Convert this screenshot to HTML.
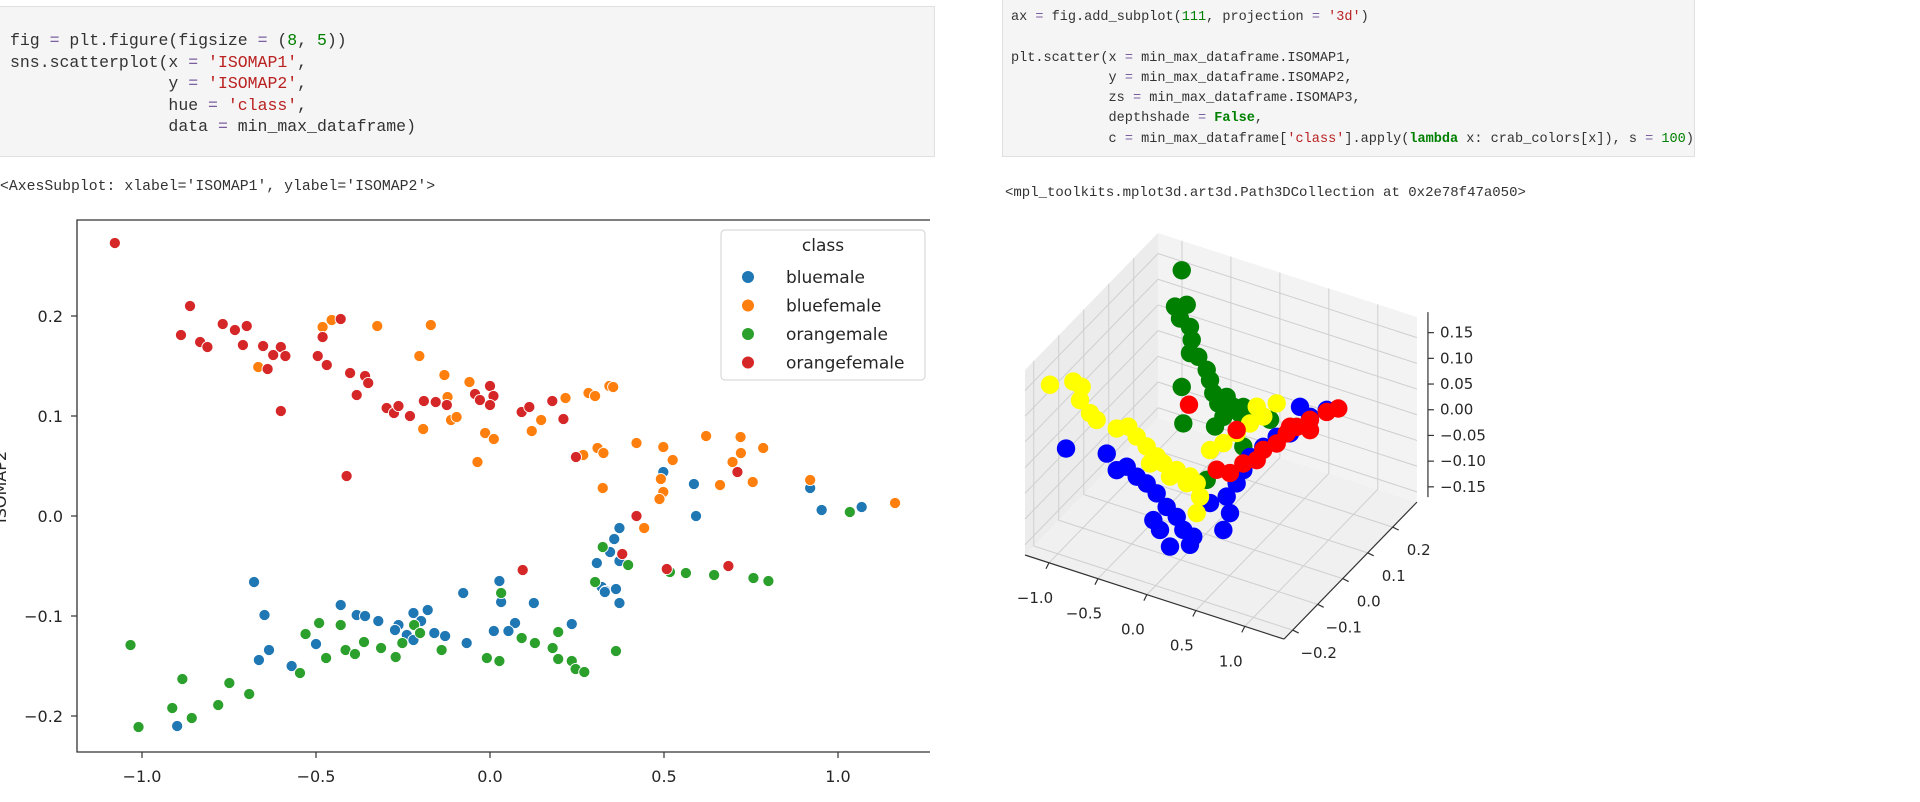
<!DOCTYPE html>
<html><head><meta charset="utf-8">
<style>
body{margin:0;width:1920px;height:802px;background:#fff;overflow:hidden;position:relative;font-family:"Liberation Sans",sans-serif}
.cell{position:absolute;background:#f5f5f5;border:1px solid #e0e0e0;box-sizing:border-box}
.code{position:absolute;font-family:"Liberation Mono",monospace;color:#333;white-space:pre}
.s{color:#ba2121}.n{color:#008000}.o{color:#7a5fa0}.k{color:#008000;font-weight:bold}
.out{position:absolute;font-family:"Liberation Mono",monospace;color:#333;white-space:pre}
svg{position:absolute;left:0;top:0}
</style></head><body>
<div class="cell" style="left:-2px;top:6px;width:937px;height:151px"></div>
<div class="code" style="left:10px;top:30px;font-size:16.5px;line-height:21.5px">fig <span class="o">=</span> plt.figure(figsize <span class="o">=</span> (<span class="n">8</span>, <span class="n">5</span>))
sns.scatterplot(x <span class="o">=</span> <span class="s">'ISOMAP1'</span>,
                y <span class="o">=</span> <span class="s">'ISOMAP2'</span>,
                hue <span class="o">=</span> <span class="s">'class'</span>,
                data <span class="o">=</span> min_max_dataframe)</div>
<div class="out" style="left:0px;top:178px;font-size:14.8px;line-height:18px">&lt;AxesSubplot: xlabel='ISOMAP1', ylabel='ISOMAP2'&gt;</div>
<div class="cell" style="left:1002px;top:-2px;width:693px;height:159px"></div>
<div class="code" style="left:1011px;top:8px;font-size:13.55px;line-height:20.3px">ax <span class="o">=</span> fig.add_subplot(<span class="n">111</span>, projection <span class="o">=</span> <span class="s">'3d'</span>)

plt.scatter(x <span class="o">=</span> min_max_dataframe.ISOMAP1,
            y <span class="o">=</span> min_max_dataframe.ISOMAP2,
            zs <span class="o">=</span> min_max_dataframe.ISOMAP3,
            depthshade <span class="o">=</span> <span class="k">False</span>,
            c <span class="o">=</span> min_max_dataframe[<span class="s">'class'</span>].apply(<span class="k">lambda</span> x: crab_colors[x]), s <span class="o">=</span> <span class="n">100</span>)</div>
<div class="out" style="left:1005px;top:184px;font-size:14px;line-height:18px">&lt;mpl_toolkits.mplot3d.art3d.Path3DCollection at 0x2e78f47a050&gt;</div>

<svg id="chart" width="1920" height="802" xmlns="http://www.w3.org/2000/svg"></svg>

<script>
// ---------- 2D scatter data ----------
const classNames = ['bluemale','bluefemale','orangemale','orangefemale'];
const classColors = ['#1f77b4','#ff7f0e','#2ca02c','#d62728'];
const xTicks = [-1.0,-0.5,0.0,0.5,1.0];
const xTickLabels = ['\u22121.0','\u22120.5','0.0','0.5','1.0'];
const yTicks = [-0.2,-0.1,0.0,0.1,0.2];
const yTickLabels = ['\u22120.2','\u22120.1','0.0','0.1','0.2'];
const blueMaleX = [-0.678,-0.648,-0.429,-0.383,-0.359,-0.321,0.498,0.586,0.592,0.372,0.357,0.345,0.372,0.307,0.321,0.332,0.362,0.372,0.027,0.032,-0.077,0.126,-0.179,-0.220,-0.263,0.072,0.235,-0.635,-0.664,-0.570,-0.500,-0.273,-0.239,-0.220,-0.198,-0.160,-0.129,-0.067,0.011,0.053,-0.899,0.920,0.953,1.068,0.330];
const blueMaleY = [-0.066,-0.099,-0.089,-0.099,-0.100,-0.105,0.044,0.032,0.000,-0.012,-0.023,-0.036,-0.045,-0.047,-0.071,-0.075,-0.073,-0.087,-0.065,-0.086,-0.077,-0.087,-0.094,-0.097,-0.109,-0.107,-0.108,-0.134,-0.144,-0.150,-0.128,-0.114,-0.119,-0.124,-0.105,-0.117,-0.120,-0.127,-0.115,-0.115,-0.210,0.028,0.006,0.009,-0.076];
const blueFemaleX = [-0.666,-0.481,-0.455,-0.324,-0.170,-0.203,-0.131,-0.059,-0.122,-0.192,-0.112,-0.096,-0.036,-0.014,0.011,0.120,0.147,0.217,0.283,0.302,0.343,0.354,0.268,0.309,0.326,0.324,0.421,0.498,0.525,0.491,0.498,0.487,0.443,0.621,0.720,0.721,0.697,0.661,0.755,0.785,0.920,1.164];
const blueFemaleY = [0.149,0.189,0.196,0.190,0.191,0.160,0.141,0.134,0.119,0.087,0.096,0.099,0.054,0.083,0.077,0.085,0.096,0.118,0.123,0.120,0.130,0.129,0.061,0.068,0.063,0.028,0.073,0.069,0.056,0.037,0.024,0.017,-0.012,0.080,0.079,0.063,0.054,0.031,0.034,0.068,0.036,0.013];
const orangeMaleX = [-0.491,-0.429,0.324,0.397,0.302,0.032,0.563,0.644,0.757,0.800,0.517,-0.218,-1.033,-1.010,-0.884,-0.913,-0.857,-0.781,-0.749,-0.692,-0.546,-0.530,-0.471,-0.415,-0.388,-0.362,-0.313,-0.271,-0.252,-0.201,-0.139,-0.009,0.027,0.091,0.129,0.180,0.196,0.196,0.235,0.246,0.271,0.362,1.034];
const orangeMaleY = [-0.107,-0.109,-0.031,-0.049,-0.066,-0.077,-0.057,-0.059,-0.062,-0.065,-0.056,-0.109,-0.129,-0.211,-0.163,-0.192,-0.202,-0.189,-0.167,-0.178,-0.157,-0.118,-0.142,-0.134,-0.138,-0.126,-0.132,-0.141,-0.127,-0.117,-0.134,-0.142,-0.145,-0.122,-0.127,-0.132,-0.116,-0.143,-0.145,-0.153,-0.156,-0.135,0.004];
const orangeFemaleX = [-1.078,-0.888,-0.862,-0.833,-0.812,-0.768,-0.733,-0.699,-0.710,-0.652,-0.623,-0.601,-0.588,-0.639,-0.601,-0.495,-0.481,-0.469,-0.429,-0.402,-0.359,-0.350,-0.383,-0.412,-0.297,-0.276,-0.263,-0.230,-0.190,-0.156,-0.124,-0.043,0.000,0.010,0.000,-0.029,0.091,0.113,0.179,0.211,0.247,0.421,0.380,0.508,0.685,0.711,0.094];
const orangeFemaleY = [0.273,0.181,0.210,0.174,0.169,0.192,0.186,0.190,0.171,0.170,0.161,0.169,0.160,0.147,0.105,0.160,0.179,0.151,0.197,0.143,0.140,0.133,0.121,0.040,0.108,0.103,0.110,0.100,0.115,0.114,0.111,0.122,0.130,0.120,0.111,0.116,0.104,0.109,0.115,0.097,0.059,0.000,-0.038,-0.053,-0.050,0.044,-0.054];

// ---------- 3D scatter data ----------
const x3Ticks = [-1.0,-0.5,0.0,0.5,1.0];
const x3TickLabels = ['\u22121.0','\u22120.5','0.0','0.5','1.0'];
const y3Ticks = [-0.2,-0.1,0.0,0.1,0.2];
const y3TickLabels = ['\u22120.2','\u22120.1','0.0','0.1','0.2'];
const z3Ticks = [-0.15,-0.10,-0.05,0.0,0.05,0.10,0.15];
const z3TickLabels = ['\u22120.15','\u22120.10','\u22120.05','0.00','0.05','0.10','0.15'];
const greenX3 = [0.356,0.287,0.407,0.338,0.440,0.458,0.440,0.525,0.611,0.645,0.678,0.729,0.815,0.883,0.985,0.951,0.781,0.696,1.053,0.985,1.258,0.356,0.372,0.611];
const greenZ3 = [0.483,0.408,0.419,0.388,0.378,0.354,0.327,0.325,0.305,0.287,0.264,0.247,0.265,0.250,0.256,0.241,0.224,0.200,0.241,0.179,0.248,0.256,0.186,0.091];
const blueX3 = [-0.826,-0.410,-0.308,-0.206,-0.002,0.100,0.202,0.066,0.305,0.134,0.372,0.474,0.236,0.440,0.781,0.849,0.815,0.917,0.985,1.053,1.189,1.326,1.462,1.564,1.837,1.666,0.645,-0.104];
const blueZ3 = [0.063,0.079,0.053,0.066,0.046,0.033,0.013,-0.021,0.000,-0.036,-0.021,-0.028,-0.062,-0.046,0.004,0.041,0.071,0.103,0.133,0.163,0.191,0.219,0.234,0.292,0.303,0.279,0.048,0.053];
const yellowX3 = [-0.990,-0.752,-0.666,-0.683,-0.581,-0.513,-0.308,-0.190,-0.104,-0.002,0.100,0.168,0.305,0.440,0.509,0.543,0.509,0.407,0.645,0.781,0.917,1.053,1.189,1.326,0.032,0.236,1.122];
const yellowZ3 = [0.177,0.198,0.193,0.166,0.147,0.138,0.134,0.145,0.131,0.118,0.105,0.096,0.091,0.087,0.078,0.054,0.020,0.072,0.151,0.173,0.201,0.228,0.250,0.284,0.087,0.074,0.265];
const redX3 = [0.430,1.955,1.837,1.666,1.530,1.428,1.326,1.189,1.122,0.985,0.849,0.713,0.917,1.666,1.462];
const redZ3 = [0.226,0.313,0.299,0.273,0.251,0.232,0.206,0.185,0.161,0.146,0.119,0.117,0.207,0.253,0.247];

const NS='http://www.w3.org/2000/svg';
const svg=document.getElementById('chart');
function mk(tag,attrs,parent){const e=document.createElementNS(NS,tag);for(const k in attrs)e.setAttribute(k,attrs[k]);(parent||svg).appendChild(e);return e;}

// ---------- 2D axes ----------
const L=77,T=220,R=930,B=752;
const xs=v=>490+v*348;
const ys=v=>516-v*1000;
const g2=mk('g',{});


const series=[[blueMaleX,blueMaleY],[blueFemaleX,blueFemaleY],[orangeMaleX,orangeMaleY],[orangeFemaleX,orangeFemaleY]];
series.forEach((s,ci)=>{
  const sg=mk('g',{},g2);
  
  
  const n=Math.min(s[0].length,s[1].length);
  for(let i=0;i<n;i++){
    const c=mk('circle',{cx:xs(s[0][i]),cy:ys(s[1][i]),r:5.6,fill:classColors[ci],stroke:'#fff','stroke-width':0.9},sg);
    
    
  }
});
const sp=mk('path',{d:`M${R},${T}H${L}V${B}H${R}`,fill:'none',stroke:'#333','stroke-width':1.3});


xTicks.forEach((t,i)=>{
  mk('line',{x1:xs(t),x2:xs(t),y1:B,y2:B+6,stroke:'#333','stroke-width':1.2});
  const tx=mk('text',{x:xs(t),y:782,'text-anchor':'middle','font-family':'DejaVu Sans, sans-serif','font-size':16,fill:'#262626'});
  tx.textContent=xTickLabels[i];
  
  
});
yTicks.forEach((t,i)=>{
  mk('line',{x1:L-6,x2:L,y1:ys(t),y2:ys(t),stroke:'#333','stroke-width':1.2});
  const tx=mk('text',{x:63,y:ys(t)+6,'text-anchor':'end','font-family':'DejaVu Sans, sans-serif','font-size':16,fill:'#262626'});
  tx.textContent=yTickLabels[i];
  
  
});
const yl=mk('text',{transform:'translate(6,487) rotate(-90)','text-anchor':'middle','font-family':'DejaVu Sans, sans-serif','font-size':16,fill:'#262626'});
yl.textContent='ISOMAP2';


// legend
const lg=mk('g',{});


mk('rect',{x:721,y:230,width:204,height:150,rx:4,fill:'#fff','fill-opacity':0.85,stroke:'#d9d9d9','stroke-width':1.2},lg);
const lt=mk('text',{x:823,y:251,'text-anchor':'middle','font-family':'DejaVu Sans, sans-serif','font-size':17,fill:'#262626'},lg);
lt.textContent='class';


classNames.forEach((nm,i)=>{
  const eg=mk('g',{},lg);
  
  
  const y=277+i*28.5;
  mk('circle',{cx:748,cy:y,r:6.5,fill:classColors[i],stroke:'#fff','stroke-width':1},eg);
  const t=mk('text',{x:786,y:y+6,'font-family':'DejaVu Sans, sans-serif','font-size':17,fill:'#262626'},eg);
  t.textContent=nm;
});

// ---------- 3D axes ----------
const XMIN=-1.245,XMAX=1.40,YMIN=-0.235,YMAX=0.297,ZMIN=-0.17,ZMAX=0.19;
function p3(x,y,z){return [1025+(x-XMIN)*97.9+(y-YMIN)*250, 555+(x-XMIN)*31.8-(y-YMIN)*257.5-(z-ZMIN)*514];}
function poly(pts,attrs,parent){return mk('polygon',Object.assign({points:pts.map(p=>p.join(',')).join(' ')},attrs),parent);}
function ln(a,b,attrs,parent){return mk('line',Object.assign({x1:a[0],y1:a[1],x2:b[0],y2:b[1]},attrs),parent);}
const g3=mk('g',{});


const paneL=poly([p3(XMIN,YMIN,ZMIN),p3(XMIN,YMAX,ZMIN),p3(XMIN,YMAX,ZMAX),p3(XMIN,YMIN,ZMAX)],{fill:'#ececec'},g3);


const paneB=poly([p3(XMIN,YMAX,ZMIN),p3(XMAX,YMAX,ZMIN),p3(XMAX,YMAX,ZMAX),p3(XMIN,YMAX,ZMAX)],{fill:'#f3f3f3'},g3);


const paneF=poly([p3(XMIN,YMIN,ZMIN),p3(XMAX,YMIN,ZMIN),p3(XMAX,YMAX,ZMIN),p3(XMIN,YMAX,ZMIN)],{fill:'#f0f0f0'},g3);


const gs={stroke:'#cfcfcf','stroke-width':1};
x3Ticks.forEach(t=>{ln(p3(t,YMIN,ZMIN),p3(t,YMAX,ZMIN),gs,g3);ln(p3(t,YMAX,ZMIN),p3(t,YMAX,ZMAX),gs,g3);});
y3Ticks.forEach(t=>{ln(p3(XMIN,t,ZMIN),p3(XMAX,t,ZMIN),gs,g3);ln(p3(XMIN,t,ZMIN),p3(XMIN,t,ZMAX),gs,g3);});
z3Ticks.forEach(t=>{ln(p3(XMIN,YMIN,t),p3(XMIN,YMAX,t),gs,g3);ln(p3(XMIN,YMAX,t),p3(XMAX,YMAX,t),gs,g3);});
const ax={stroke:'#333','stroke-width':1.2};
ln(p3(XMIN,YMIN,ZMIN),p3(XMAX,YMIN,ZMIN),ax,g3);
ln(p3(XMAX,YMIN,ZMIN),p3(XMAX,YMAX,ZMIN),ax,g3);
const zb=p3(XMAX,YMAX,ZMIN);
const zx=zb[0]+11;
ln([zx,zb[1]-5],[zx,zb[1]-5-(ZMAX-ZMIN)*514],ax,g3);
const p3series=[[greenX3,greenZ3,'#008000','green'],[blueX3,blueZ3,'#0000ff','blue'],[yellowX3,yellowZ3,'#ffff00','yellow'],[redX3,redZ3,'#ff0000','red']];
p3series.forEach(s=>{
  const sg=mk('g',{},g3);
  
  
  const n=Math.min(s[0].length,s[1].length);
  for(let i=0;i<n;i++){
    const p=p3(s[0][i],YMIN,s[1][i]);
    const c=mk('circle',{cx:p[0],cy:p[1],r:9.2,fill:s[2]},sg);
    
    
  }
});
const tf={'font-family':'DejaVu Sans, sans-serif','font-size':15,fill:'#262626'};
x3Ticks.forEach((t,i)=>{
  const p=p3(t,YMIN,ZMIN);
  ln([p[0],p[1]],[p[0]-3,p[1]+6],ax,g3);
  const tx=mk('text',Object.assign({x:p[0]-14,y:p[1]+40,'text-anchor':'middle'},tf),g3);
  tx.textContent=x3TickLabels[i];
  
  
});
y3Ticks.forEach((t,i)=>{
  const p=p3(XMAX,t,ZMIN);
  ln([p[0],p[1]],[p[0]+6,p[1]+3],ax,g3);
  const tx=mk('text',Object.assign({x:p[0]+26,y:p[1]+28,'text-anchor':'middle'},tf),g3);
  tx.textContent=y3TickLabels[i];
  
  
});
z3Ticks.forEach((t,i)=>{
  const y=zb[1]-5-(t-ZMIN)*514;
  ln([zx,y],[zx+6,y],ax,g3);
  const tx=mk('text',Object.assign({x:zx+12,y:y+5,'text-anchor':'start'},tf),g3);
  tx.textContent=z3TickLabels[i];
  
  
});
</script>
</body></html>
